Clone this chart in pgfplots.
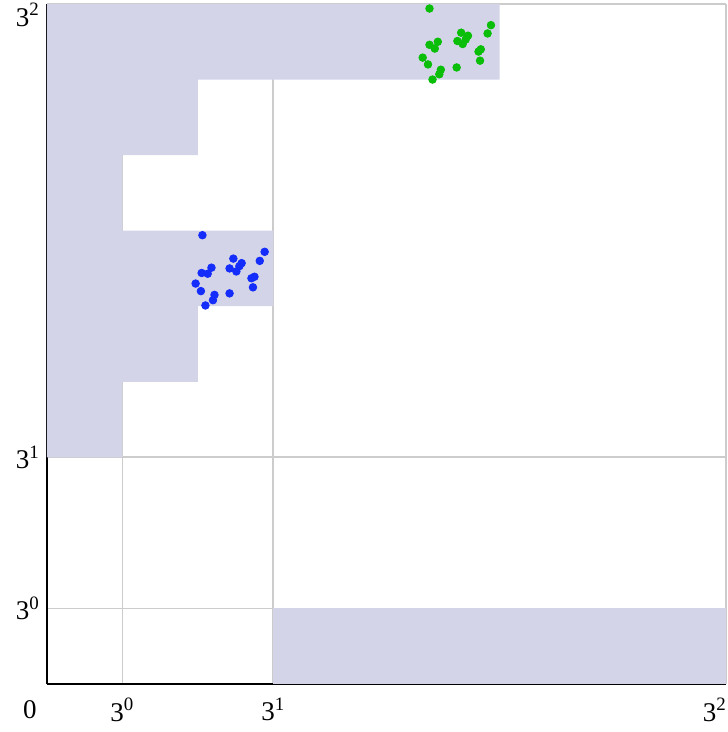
\documentclass[border=0pt]{standalone}
\usepackage{fontspec}
\setmainfont{Liberation Serif}
\usepackage{pgfplots}
\pgfplotsset{compat=1.18}
\definecolor{shade}{RGB}{211,212,232}
\definecolor{ptblue}{RGB}{20,45,250}
\definecolor{ptgreen}{RGB}{10,190,10}
\definecolor{gridgray}{RGB}{204,204,204}
\begin{document}
\begin{tikzpicture}
\begin{axis}[
  scale only axis,
  width=339.5pt, height=340pt,
  xmin=0, xmax=9, ymin=0, ymax=9,
  axis x line*=bottom, axis y line*=left,
  axis line style={-, black, line width=1pt},
  major tick length=0pt,
  xtick={1,3}, xticklabels={3\textsuperscript{0},3\textsuperscript{1}},
  ytick={1,3}, yticklabels={3\textsuperscript{0},3\textsuperscript{1}},
  extra x ticks={9}, extra x tick labels={3\textsuperscript{2}},
  extra y ticks={9}, extra y tick labels={3\textsuperscript{2}},
  extra x tick style={grid=major, xticklabel style={anchor=north east, xshift=4pt}},
  extra y tick style={grid=major, yticklabel style={anchor=north east, yshift=4pt}},
  xticklabel style={yshift=-3.5pt},
  tick label style={font=\fontsize{13.5}{15}\selectfont},
  grid=major,
  grid style={gridgray, line width=0.85pt},
  clip=false,
]
\addplot[fill=shade, draw=none] coordinates {(0,3) (1,3) (1,4) (2,4) (2,5) (3,5) (3,6) (1,6) (1,7) (2,7) (2,8) (6,8) (6,9) (0,9)} --cycle;
\addplot[fill=shade, draw=none] coordinates {(3,0) (9,0) (9,1) (3,1)} --cycle;
\addplot[only marks, mark=*, mark size=1.9pt, ptblue, mark options={draw=ptblue, fill=ptblue}] coordinates {
(2.06,5.94) (2.885,5.72) (2.82,5.60) (2.47,5.63) (2.58,5.57) (2.42,5.50) (2.51,5.46) (2.55,5.53)
(2.18,5.51) (2.05,5.44) (2.13,5.43) (2.75,5.39) (2.71,5.37) (2.73,5.25) (1.97,5.30) (2.04,5.20)
(2.42,5.17) (2.22,5.15) (2.20,5.08) (2.10,5.01)};
\addplot[only marks, mark=*, mark size=1.9pt, ptgreen, mark options={draw=ptgreen, fill=ptgreen}] coordinates {
(5.07,8.94) (5.885,8.72) (5.84,8.61) (5.49,8.62) (5.58,8.58) (5.44,8.51) (5.51,8.47) (5.55,8.53)
(5.18,8.50) (5.07,8.46) (5.14,8.41) (5.75,8.40) (5.72,8.37) (5.74,8.25) (4.98,8.29) (5.05,8.20)
(5.43,8.16) (5.22,8.13) (5.20,8.07) (5.11,8.00)};
\end{axis}
\node[anchor=north east, inner sep=0pt, font=\fontsize{13.5}{15}\selectfont] at (-5pt,-8pt) {0};
\pgfresetboundingbox
\path[use as bounding box] (-23.5pt,-24pt) rectangle (340pt,342pt);
\end{tikzpicture}
\end{document}
